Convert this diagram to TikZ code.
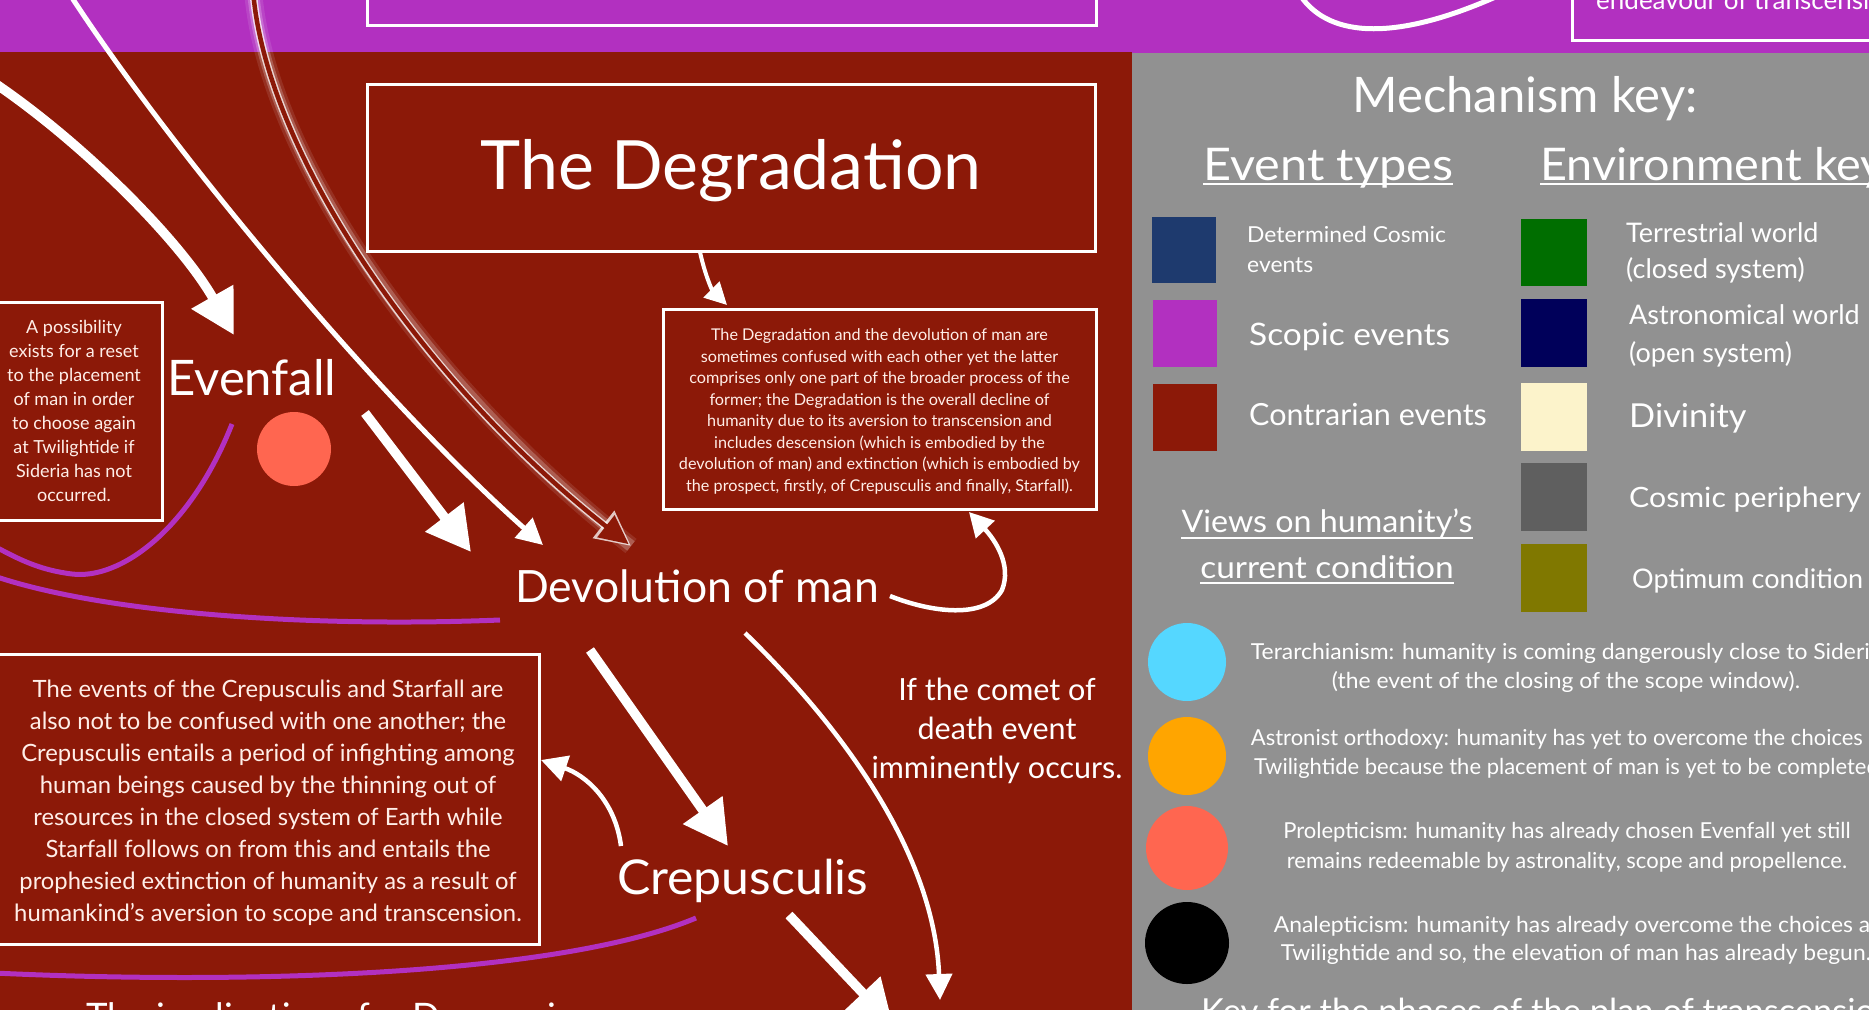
\documentclass[tikz,border=0pt]{standalone}
\usepackage{fontspec}
\setmainfont{Lato}
\newfontfamily\kfa{Lato}[FakeStretch=1.0]
\newfontfamily\kfb{Lato}[FakeStretch=1.04]
\newfontfamily\kfc{Lato}[FakeStretch=1.08]
\usetikzlibrary{arrows.meta}
\definecolor{bgred}{RGB}{140,25,8}
\definecolor{scopic}{RGB}{178,48,192}
\definecolor{keygrey}{RGB}{145,145,145}
\definecolor{cosmicblue}{RGB}{30,58,110}
\definecolor{terrgreen}{RGB}{0,110,0}
\definecolor{astronavy}{RGB}{0,0,90}
\definecolor{divcream}{RGB}{252,243,203}
\definecolor{periph}{RGB}{95,95,95}
\definecolor{optolive}{RGB}{128,120,0}
\definecolor{cyanv}{RGB}{85,215,255}
\definecolor{orangev}{RGB}{255,165,0}
\definecolor{coralv}{RGB}{255,102,80}
\definecolor{boxtext}{RGB}{255,238,232}
\tikzset{
  wbox/.style={draw=white, line width=3pt},
  wflow/.style={draw=white, line width=4.5pt, -{Triangle[length=26pt,width=26pt]}},
  bigflow/.style={draw=white, line width=9.5pt, -{Triangle[length=44pt,width=46pt]}},
  scopicline/.style={draw=scopic, line width=5pt},
  lbl/.style={text=white, inner sep=0pt},
  keytxt/.style={text=white, inner sep=0pt},
  under/.style={draw=white, line width=2.2pt},
}
\begin{document}
\begin{tikzpicture}[x=1pt,y=-1pt]
\useasboundingbox (0,0) rectangle (1869,1010);
\clip (0,0) rectangle (1869,1010);
% backgrounds
\fill[scopic] (0,0) rectangle (1869,53);
\fill[bgred] (0,52) rectangle (1132,1010);
\fill[keygrey] (1132,53) rectangle (1869,1010);

% top band elements
\draw[wbox] (367,-10) rectangle (1096,25);
\draw[wbox] (1572,-10) rectangle (1885,40);
\node[keytxt, anchor=base west, font={\kfa\fontsize{26}{32}\selectfont}] (endeav) at (1596,9) {endeavour of transcension};
\coordinate (topS) at (1300,-5);
\coordinate (topE) at (1500,-5);
\draw[draw=white, line width=5pt] (topS) .. controls (1330,40) and (1400,40) .. (topE);

% scopic curves
\coordinate (p1s) at (232,424);
\coordinate (p1m) at (72,574);
\coordinate (p1e) at (-6,546);
\draw[scopicline] (p1s) .. controls (190,530) and (120,580) .. (p1m) .. controls (40,570) and (20,560) .. (p1e);
\coordinate (p2s) at (-6,576);
\coordinate (p2e) at (500,620);
\draw[scopicline] (p2s) .. controls (100,612) and (300,628) .. (p2e);
\coordinate (p3s) at (-6,973);
\coordinate (p3e) at (696,918);
\draw[scopicline] (p3s) .. controls (250,985) and (560,975) .. (p3e);

% boxes
\node[wbox, lbl, minimum width=728pt, minimum height=167pt, text height=58pt, text depth=14pt, font={\fontsize{68}{78}\selectfont}] (degtitle) at (731,167.5) {The Degradation};
\node[wbox, lbl, text=boxtext, minimum width=433pt, minimum height=200pt, align=center, font={\fontsize{16.2}{21.5}\selectfont}] (degdesc) at (879.5,409) {\rule{0pt}{17pt}The Degradation and the devolution of man are\\sometimes confused with each other yet the latter\\comprises only one part of the broader process of the\\former; the Degradation is the overall decline of\\humanity due to its aversion to transcension and\\includes descension (which is embodied by the\\devolution of man) and extinction (which is embodied by\\the prospect, firstly, of Crepusculis and finally, Starfall).};
\node[wbox, lbl, text=boxtext, minimum width=176pt, minimum height=218pt, align=center, font={\fontsize{18}{23.9}\selectfont}] (reset) at (74,411) {A possibility\\exists for a reset\\to the placement\\of man in order\\to choose again\\at Twilightide if\\Sideria has not\\occurred.};
\node[wbox, lbl, text=boxtext, minimum width=543pt, minimum height=290pt, align=center, font={\fontsize{23.8}{32}\selectfont}] (crepbox) at (268,799) {\rule{0pt}{26pt}The events of the Crepusculis and Starfall are\\also not to be confused with one another; the\\Crepusculis entails a period of infighting among\\human beings caused by the thinning out of\\resources in the closed system of Earth while\\Starfall follows on from this and entails the\\prophesied extinction of humanity as a result of\\humankind’s aversion to scope and transcension.};

% labels
\node[lbl, anchor=base west, font={\fontsize{49}{56}\selectfont}] (evenfall) at (167,395) {Evenfall};
\node[lbl, anchor=base west, font={\fontsize{44.5}{52}\selectfont}] (devol) at (515,602) {Devolution of man};
\node[lbl, anchor=base west, font={\kfb\fontsize{48}{56}\selectfont}] (crep) at (617,894) {Crepusculis};
\node[lbl, align=center, font={\fontsize{30.5}{39}\selectfont}] (comet) at (997,731) {If the comet of\\death event\\imminently occurs.};
\node[lbl, anchor=base west, font={\fontsize{36.5}{44}\selectfont}] (implic) at (86,1029) {The implications for Descension};
\fill[coralv] (294,449) circle (37);

% connectors
\coordinate (aS) at (67,-10);
\coordinate (aE) at (543,545);
\draw[wflow, line width=5pt] (aS) .. controls (170,150) and (380,400) .. (aE);

\coordinate (bS) at (-10,80);
\coordinate (bE) at (234,335);
\draw[bigflow] (bS) .. controls (80,140) and (180,240) .. (bE);

\coordinate (cS) at (253,-10);
\coordinate (cE) at (631,546);
\draw[white, opacity=0.10, line width=18pt] (cS) .. controls (265,150) and (420,380) .. (cE);
\draw[white, opacity=0.22, line width=12pt] (cS) .. controls (265,150) and (420,380) .. (cE);
\draw[white, opacity=0.75, line width=7.5pt, -{Triangle[length=35pt,width=33pt]}] (cS) .. controls (265,150) and (420,380) .. (cE);
\draw[bgred, line width=4.5pt, shorten >=3pt, -{Triangle[length=29pt,width=27pt]}] (cS) .. controls (265,150) and (420,380) .. (cE);

\coordinate (dS) at (365,413);
\coordinate (dE) at (471,552);
\draw[bigflow] (dS) -- (dE);

\coordinate (eS) at (890,596);
\coordinate (eM) at (1002,590);
\coordinate (eE) at (969,512);
\draw[wflow, -{Triangle[length=24pt,width=25pt]}] (eS) .. controls (930,612) and (985,620) .. (eM) .. controls (1012,565) and (995,540) .. (eE);

\coordinate (fS) at (700,252);
\coordinate (fE) at (727,305);
\draw[wflow, line width=4pt, -{Triangle[length=22pt,width=22pt]}] (fS) .. controls (705,275) and (712,290) .. (fE);

\coordinate (gS) at (590,650);
\coordinate (gE) at (728,846);
\draw[bigflow] (gS) -- (gE);

\coordinate (hS) at (621,846);
\coordinate (hE) at (541,760);
\draw[wflow] (hS) .. controls (615,800) and (585,775) .. (hE);

\coordinate (iS) at (789,915);
\coordinate (iE) at (893,1025);
\draw[bigflow] (iS) -- (iE);

\coordinate (jS) at (745,633);
\coordinate (jE) at (940,1000);
\draw[wflow] (jS) .. controls (865,750) and (935,870) .. (jE);

% ===== key =====
\node[keytxt, anchor=base, font={\kfa\fontsize{49}{58}\selectfont}] (mechkey) at (1525,112) {Mechanism key:};
\node[keytxt, anchor=base west, font={\kfc\fontsize{45}{54}\selectfont}] (evtypes) at (1203,180) {Event types};
\draw[under] ([yshift=-4pt]evtypes.base west) -- ([yshift=-4pt]evtypes.base east);
\node[keytxt, anchor=base west, font={\kfb\fontsize{45}{54}\selectfont}] (envkey) at (1540,180) {Environment key};
\draw[under] ([yshift=-4pt]envkey.base west) -- ([yshift=-4pt]envkey.base east);

\fill[cosmicblue] (1152,217) rectangle (1216,283);
\fill[scopic] (1153,300) rectangle (1217,367);
\fill[bgred] (1153,384) rectangle (1217,451);
\node[keytxt, anchor=base west, align=left, font={\kfb\fontsize{22}{30}\selectfont}] (detcos) at (1247,272) {Determined Cosmic\\events};
\node[keytxt, anchor=base west, font={\kfc\fontsize{31}{37}\selectfont}] (scopev) at (1249,345) {Scopic events};
\node[keytxt, anchor=base west, font={\kfa\fontsize{30.5}{37}\selectfont}] (contrev) at (1249,425) {Contrarian events};

\node[keytxt, anchor=base, font={\kfb\fontsize{31}{37}\selectfont}] (views1) at (1327,532) {Views on humanity’s};
\draw[under] ([yshift=-6pt]views1.base west) -- ([yshift=-6pt]views1.base east);
\node[keytxt, anchor=base, font={\kfc\fontsize{31}{37}\selectfont}] (views2) at (1327,578) {current condition};
\draw[under] ([yshift=-5pt]views2.base west) -- ([yshift=-5pt]views2.base east);

\fill[terrgreen] (1521,219) rectangle (1587,286);
\fill[astronavy] (1521,299) rectangle (1587,367);
\fill[divcream] (1521,383) rectangle (1587,451);
\fill[periph] (1521,463) rectangle (1587,531);
\fill[optolive] (1521,544) rectangle (1587,612);
\node[keytxt, anchor=base west, align=left, font={\kfa\fontsize{27}{36}\selectfont}] (terr) at (1626,278) {Terrestrial world\\(closed system)};
\node[keytxt, anchor=base west, align=left, font={\kfa\fontsize{27}{38}\selectfont}] (astro) at (1629,362) {Astronomical world\\(open system)};
\node[keytxt, anchor=base west, font={\kfb\fontsize{33}{40}\selectfont}] (divin) at (1629,427) {Divinity};
\node[keytxt, anchor=base west, font={\kfc\fontsize{28}{34}\selectfont}] (cosper) at (1629,507) {Cosmic periphery};
\node[keytxt, anchor=base west, font={\kfa\fontsize{27}{34}\selectfont}] (optcon) at (1632,588) {Optimum condition};

\fill[cyanv] (1187,662) circle (39);
\fill[orangev] (1187,756) circle (39);
\fill[coralv] (1187,848) ellipse (41 and 42);
\fill[black] (1187,943) ellipse (42 and 41);
\node[keytxt, align=center, font={\kfb\fontsize{22}{29}\selectfont}] (terarch) at (1566,667.5) {Terarchianism: humanity is coming dangerously close to Sideria\\(the event of the closing of the scope window).};
\node[keytxt, align=center, font={\kfa\fontsize{22}{29}\selectfont}] (astron) at (1569,753.5) {Astronist orthodoxy: humanity has yet to overcome the choices at\\Twilightide because the placement of man is yet to be completed.};
\node[keytxt, align=center, font={\kfa\fontsize{22}{30}\selectfont}] (prolep) at (1567,847) {Prolepticism: humanity has already chosen Evenfall yet still\\remains redeemable by astronality, scope and propellence.};
\node[keytxt, align=center, font={\kfb\fontsize{22}{28}\selectfont}] (analep) at (1576,940) {Analepticism: humanity has already overcome the choices at\\Twilightide and so, the elevation of man has already begun.};
\node[keytxt, anchor=base west, font={\kfa\fontsize{34.5}{42}\selectfont}] (phases) at (1201,1023) {Key for the phases of the plan of transcension};
\end{tikzpicture}
\end{document}
